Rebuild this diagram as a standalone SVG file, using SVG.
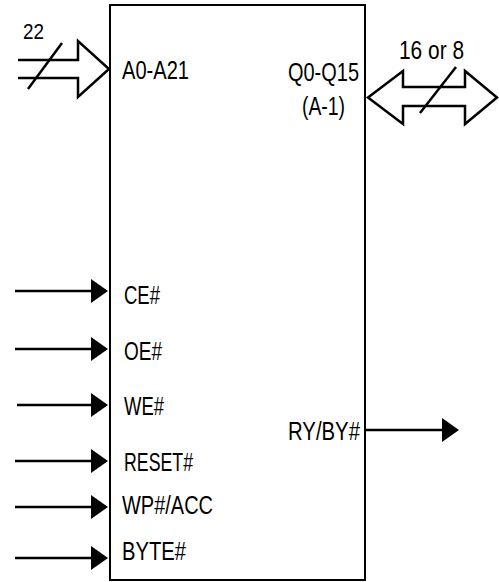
<svg xmlns="http://www.w3.org/2000/svg" width="499" height="582" viewBox="0 0 499 582">
<defs>
<style>
text{font-family:"Liberation Sans Narrow","Liberation Sans",Arial,sans-serif;font-size:25px;fill:#000}
.ln{stroke:#000;stroke-width:2.5;fill:none}
.bus{stroke:#000;stroke-width:2.5;fill:#fff;stroke-linejoin:miter}
</style>
<marker id="ah" markerWidth="17" markerHeight="24" refX="0" refY="12" orient="auto" markerUnits="userSpaceOnUse">
<path d="M0,0 L17,12 L0,24 Z" fill="#000"/>
</marker>
</defs>
<g id="chip">
<rect x="110" y="5" width="255" height="575" fill="#fff" stroke="#000" stroke-width="2"/>
<text x="122" y="79" textLength="67" lengthAdjust="spacingAndGlyphs">A0-A21</text>
<text x="288" y="81" textLength="71" lengthAdjust="spacingAndGlyphs">Q0-Q15</text>
<text x="302" y="115" textLength="43" lengthAdjust="spacingAndGlyphs">(A-1)</text>
<text x="124" y="304" textLength="36" lengthAdjust="spacingAndGlyphs">CE#</text>
<text x="124" y="360" textLength="38" lengthAdjust="spacingAndGlyphs">OE#</text>
<text x="124" y="415" textLength="40" lengthAdjust="spacingAndGlyphs">WE#</text>
<text x="124" y="471" textLength="69" lengthAdjust="spacingAndGlyphs">RESET#</text>
<text x="122" y="514" textLength="91" lengthAdjust="spacingAndGlyphs">WP#/ACC</text>
<text x="122" y="560" textLength="64" lengthAdjust="spacingAndGlyphs">BYTE#</text>
<text x="288" y="440" textLength="72" lengthAdjust="spacingAndGlyphs">RY/BY#</text>
</g>
<g id="addr-bus">
<path class="ln" d="M18,60 H78 V41 L109,69 L78,97 V78 H18"/>
<line class="ln" x1="28" y1="89" x2="62" y2="43"/>
<text x="23" y="39" style="font-size:22px" textLength="21" lengthAdjust="spacingAndGlyphs">22</text>
</g>
<g id="data-bus">
<path class="bus" d="M403,87 H465 V71 L497,97.5 L465,124 V106 H403 V124 L368,97.5 L403,71 Z"/>
<line class="ln" x1="456" y1="67" x2="420" y2="113"/>
<text x="399" y="59" textLength="65" lengthAdjust="spacingAndGlyphs">16 or 8</text>
</g>
<g id="connectors">
<line class="ln" x1="15" y1="291" x2="91" y2="291" marker-end="url(#ah)"/>
<line class="ln" x1="15" y1="349" x2="91" y2="349" marker-end="url(#ah)"/>
<line class="ln" x1="17" y1="405" x2="91" y2="405" marker-end="url(#ah)"/>
<line class="ln" x1="15" y1="461" x2="91" y2="461" marker-end="url(#ah)"/>
<line class="ln" x1="15" y1="507" x2="91" y2="507" marker-end="url(#ah)"/>
<line class="ln" x1="15" y1="558" x2="91" y2="558" marker-end="url(#ah)"/>
<line class="ln" x1="365" y1="430" x2="442" y2="430" marker-end="url(#ah)"/>
</g>
</svg>
